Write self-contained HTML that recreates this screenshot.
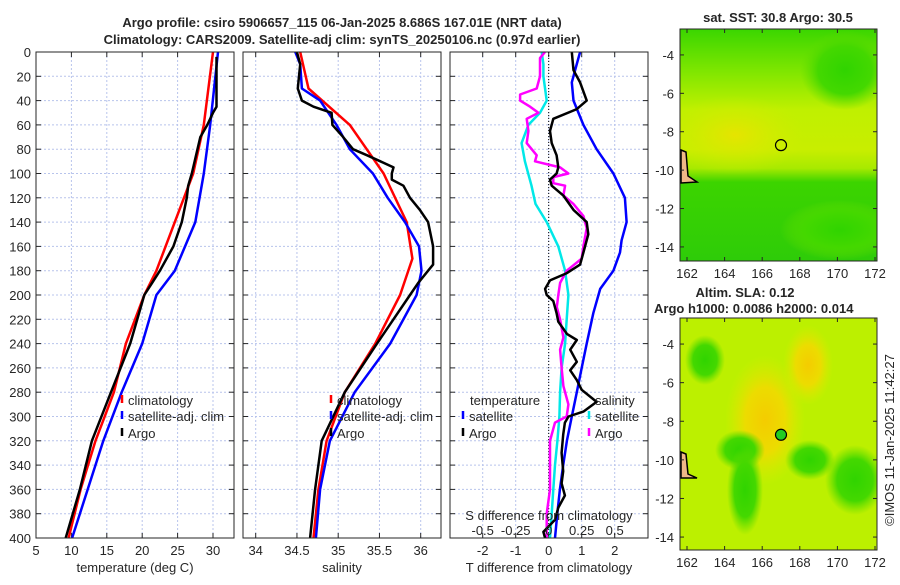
<!DOCTYPE html>
<html><head><meta charset="utf-8"><style>
body{margin:0;background:#fff;}
svg text{font-family:"Liberation Sans","DejaVu Sans",sans-serif;fill:#262626;}
</style></head><body>
<svg id="c" width="900" height="580" viewBox="0 0 900 580" xmlns="http://www.w3.org/2000/svg">
<defs>
<linearGradient id="sstg" x1="0" y1="0" x2="0" y2="1">
<stop offset="0" stop-color="#3ad600"/><stop offset="0.18" stop-color="#7ee600"/><stop offset="0.35" stop-color="#c0f000"/><stop offset="0.52" stop-color="#c8ee00"/><stop offset="0.6" stop-color="#a8ea00"/><stop offset="0.66" stop-color="#3cd400"/><stop offset="1" stop-color="#2ecc08"/>
</linearGradient>
<radialGradient id="yel"><stop offset="0" stop-color="#e6e400"/><stop offset="1" stop-color="#d0ee00" stop-opacity="0"/></radialGradient>
<radialGradient id="grn"><stop offset="0" stop-color="#30d400"/><stop offset="0.6" stop-color="#44d800"/><stop offset="1" stop-color="#60dc00" stop-opacity="0"/></radialGradient>
<radialGradient id="org"><stop offset="0" stop-color="#f4cc00"/><stop offset="0.5" stop-color="#ecdc00"/><stop offset="1" stop-color="#d8ec00" stop-opacity="0"/></radialGradient>
<clipPath id="m1c"><rect x="680" y="29" width="197" height="232"/></clipPath>
<clipPath id="m2c"><rect x="680" y="318" width="197" height="232"/></clipPath>
</defs>
<g id="layer"></g>
</svg>
<script>
// ---------- data ----------
const depthTicks=[0,20,40,60,80,100,120,140,160,180,200,220,240,260,280,300,320,340,360,380,400];
const tempTicks=[5,10,15,20,25,30];
const salTicks=[34,34.5,35,35.5,36];
const tdiffTicks=[-2,-1,0,1,2];
const sdiffTickLabels=["-0.5","-0.25","0","0.25","0.5"];
const sdiffTicks=[-0.5,-0.25,0,0.25,0.5];
const lonTicks=[162,164,166,168,170,172];
const latTicks=[-4,-6,-8,-10,-12,-14];

const tClimDepth=[0,60,100,140,180,200,240,280,320,360,400];
const tClim=[30.0,28.7,27.2,24.6,22.0,20.3,17.7,16.0,13.4,11.3,9.6];
const tSatDepth=[0,60,100,140,180,200,240,280,320,360,400];
const tSat=[30.7,29.6,28.7,27.5,24.6,22.0,20.0,17.1,14.5,12.3,10.1];
const tArgoDepth=[4,45,50,60,70,100,110,120,140,160,180,190,200,240,280,320,360,400];
const tArgo=[30.5,30.5,30.0,29.2,28.2,27.0,26.5,26.3,25.6,24.4,22.5,21.4,20.3,18.3,15.6,12.9,11.2,9.2];

const sClimDepth=[0,30,60,100,140,170,200,240,280,320,360,400];
const sClim=[34.54,34.64,35.14,35.55,35.83,35.9,35.75,35.45,35.08,34.86,34.76,34.7];
const sSatDepth=[0,10,30,40,60,80,100,120,140,160,180,200,240,280,320,360,400];
const sSat=[34.48,34.54,34.56,34.78,34.98,35.14,35.42,35.6,35.81,35.98,36.01,35.95,35.63,35.2,34.9,34.78,34.73];
const sArgoDepth=[0,10,30,40,45,50,60,70,80,85,90,95,100,105,110,120,130,140,160,175,180,190,200,240,280,320,360,400];
const sArgo=[34.5,34.54,34.51,34.56,34.7,34.92,34.93,35.06,35.18,35.35,35.51,35.67,35.65,35.65,35.79,35.87,35.99,36.09,36.15,36.15,36.09,35.97,35.87,35.47,35.08,34.8,34.72,34.66];

const dTSatDepth=[0,15,25,40,60,80,100,120,140,155,165,180,195,215,240,260,280,300,320,340,360,380,400];
const dTSat=[0.95,0.8,0.7,0.75,1.05,1.45,1.96,2.31,2.36,2.21,2.16,1.96,1.56,1.35,1.15,1.0,0.85,0.7,0.55,0.44,0.34,0.26,0.19];
const dTArgoDepth=[0,15,25,40,47,55,65,75,85,95,100,105,110,118,130,140,150,165,175,182,188,195,200,205,215,222,232,237,245,255,262,270,278,288,296,300,305,315,330,345,355,365,375,385,395,400];
const dTArgo=[0.7,0.75,0.95,1.15,0.85,0.14,0.04,0.09,0.24,0.29,0.24,0.04,0.09,0.44,0.75,1.15,1.2,1.05,0.95,0.55,0.04,-0.11,-0.06,0.14,0.24,0.29,0.55,0.85,0.65,0.85,0.65,0.85,1.0,1.45,1.05,0.6,0.49,0.44,0.39,0.44,0.39,0.49,0.29,0.19,-0.16,-0.11];
const dSSatDepth=[0,10,20,40,50,60,75,90,110,125,140,160,180,200,220,240,260,280,300,320,340,360,380,400];
const dSSat=[-0.053,-0.04,-0.04,-0.015,-0.066,-0.154,-0.205,-0.18,-0.13,-0.1,-0.015,0.073,0.124,0.149,0.136,0.124,0.098,0.086,0.081,0.066,0.048,0.035,0.023,0.01];
const dSArgoDepth=[0,5,20,30,35,40,45,50,55,65,75,85,90,95,100,103,108,110,118,125,135,145,160,170,180,190,200,210,220,235,245,260,275,290,300,305,320,340,360,380,395,400];
const dSArgo=[-0.028,-0.066,-0.066,-0.091,-0.217,-0.217,-0.141,-0.078,-0.167,-0.154,-0.167,-0.091,-0.104,0.086,0.149,0.035,0.035,0.124,0.111,0.187,0.263,0.288,0.263,0.25,0.136,0.086,0.073,0.061,0.086,0.111,0.086,0.098,0.111,0.149,0.136,0.048,0.01,0.01,0.01,-0.015,-0.015,-0.015];

// ---------- helpers ----------
const NS="http://www.w3.org/2000/svg";
const root=document.getElementById('layer');
function el(tag,attrs,parent){const e=document.createElementNS(NS,tag);for(const k in attrs)e.setAttribute(k,attrs[k]);(parent||root).appendChild(e);return e;}
function txt(x,y,s,attrs,parent){const t=el('text',Object.assign({x:x,y:y,'font-size':13},attrs||{}),parent);t.textContent=s;return t;}
const TOP=52,BOT=538;
const yD=d=>TOP+d*(BOT-TOP)/400;
const xT=v=>36+(v-5)*7.08;
const xS=v=>255.7+(v-34)*82.5;
const xDT=v=>548.7+v*33;
const xDS=v=>548.7+v*132;

function panel(x0,x1,xticks,xf,name){
  const g=el('g',{});
  
  
  el('rect',{x:x0,y:TOP,width:x1-x0,height:BOT-TOP,fill:'#fff'},g);
  xticks.forEach(v=>{const x=xf(v);el('line',{x1:x,x2:x,y1:TOP,y2:BOT,stroke:'#b8c4ec','stroke-width':1,'stroke-dasharray':'2,2'},g);
    el('line',{x1:x,x2:x,y1:BOT,y2:BOT-5,stroke:'#262626'},g);el('line',{x1:x,x2:x,y1:TOP,y2:TOP+5,stroke:'#262626'},g);});
  depthTicks.forEach(d=>{const y=yD(d);el('line',{x1:x0,x2:x1,y1:y,y2:y,stroke:'#b8c4ec','stroke-width':1,'stroke-dasharray':'2,2'},g);
    el('line',{x1:x0,x2:x0+5,y1:y,y2:y,stroke:'#262626'},g);el('line',{x1:x1-5,x2:x1,y1:y,y2:y,stroke:'#262626'},g);});
  return g;
}
function frame(x0,x1,name){const r=el('rect',{x:x0,y:TOP,width:x1-x0,height:BOT-TOP,fill:'none',stroke:'#262626','stroke-width':1});
  }
function line(depths,vals,xf,color,name,w){
  const p=el('polyline',{points:vals.map((v,i)=>xf(v).toFixed(1)+','+yD(depths[i]).toFixed(1)).join(' '),fill:'none',stroke:color,'stroke-width':w||2.5,'stroke-linejoin':'round'});
  
  
}
function legEntry(x,y,color,label,name){
  const g=el('g',{});
  
  
  el('line',{x1:x,x2:x,y1:y-10,y2:y-2,stroke:color,'stroke-width':2.5},g);
  txt(x+6,y,label,{},g);
}

// panel 1
panel(36,234,tempTicks,xT,'temperature-panel');
line(tClimDepth,tClim,xT,'#ff0000','temp-climatology-line');
line(tSatDepth,tSat,xT,'#0000ff','temp-satellite-line');
line(tArgoDepth,tArgo,xT,'#000000','temp-argo-line');
frame(36,234,'temperature-axes-frame');
depthTicks.forEach(d=>{const t=txt(31,yD(d)+5,String(d),{'text-anchor':'end'});});
tempTicks.forEach(v=>{const t=txt(xT(v),555,String(v),{'text-anchor':'middle'});});
txt(135,572,'temperature (deg C)',{'text-anchor':'middle'});
legEntry(122,405,'#ff0000','climatology','legend-climatology');
legEntry(122,421,'#0000ff','satellite-adj. clim','legend-satellite-adj');
legEntry(122,438,'#000000','Argo','legend-argo');

// panel 2
panel(243,441,salTicks,xS,'salinity-panel');
line(sClimDepth,sClim,xS,'#ff0000','sal-climatology-line');
line(sSatDepth,sSat,xS,'#0000ff','sal-satellite-line');
line(sArgoDepth,sArgo,xS,'#000000','sal-argo-line');
frame(243,441,'salinity-axes-frame');
salTicks.forEach(v=>{const t=txt(xS(v),555,String(v),{'text-anchor':'middle'});});
txt(342,572,'salinity',{'text-anchor':'middle'});
legEntry(331,405,'#ff0000','climatology','legend-climatology-2');
legEntry(331,421,'#0000ff','satellite-adj. clim','legend-satellite-adj-2');
legEntry(331,438,'#000000','Argo','legend-argo-2');

// panel 3
panel(450,648,tdiffTicks,xDT,'difference-panel');
el('line',{x1:xDT(0),x2:xDT(0),y1:TOP,y2:BOT,stroke:'#000','stroke-width':1,'stroke-dasharray':'1,2'});
line(dTSatDepth,dTSat,xDT,'#0000ff','tdiff-satellite-line');
line(dSSatDepth,dSSat,xDS,'#00e8e8','sdiff-satellite-line');
line(dSArgoDepth,dSArgo,xDS,'#ff00ff','sdiff-argo-line');
line(dTArgoDepth,dTArgo,xDT,'#000000','tdiff-argo-line');
frame(450,648,'difference-axes-frame');
tdiffTicks.forEach(v=>{const t=txt(xDT(v),555,String(v),{'text-anchor':'middle'});});
txt(549,572,'T difference from climatology',{'text-anchor':'middle'});
txt(549,520,'S difference from climatology',{'text-anchor':'middle'});
sdiffTicks.forEach((v,i)=>{const t=txt(xDS(v),535,sdiffTickLabels[i],{'text-anchor':'middle'});});
txt(470,405,'temperature');
legEntry(463,421,'#0000ff','satellite','legend-temp-satellite');
legEntry(463,438,'#000000','Argo','legend-temp-argo');
txt(595,405,'salinity');
legEntry(589,421,'#00e8e8','satellite','legend-sal-satellite');
legEntry(589,438,'#ff00ff','Argo','legend-sal-argo');

// titles
const t1=txt(342,27,'Argo profile: csiro 5906657_115 06-Jan-2025 8.686S 167.01E (NRT data)',{'text-anchor':'middle','font-weight':'bold'});

const t2=txt(342,44,'Climatology: CARS2009. Satellite-adj clim: synTS_20250106.nc (0.97d earlier)',{'text-anchor':'middle','font-weight':'bold'});


// maps
function mapAxes(x0,y0,latTop,latPer,name){
  const lx=v=>687+(v-162)*18.8;
  const ly=v=>y0+(latTop-v)*latPer;
  el('rect',{x:x0,y:y0,width:197,height:232,fill:'none',stroke:'#262626'});
  lonTicks.forEach(v=>{const x=lx(v);el('line',{x1:x,x2:x,y1:y0+232,y2:y0+228,stroke:'#262626'});el('line',{x1:x,x2:x,y1:y0,y2:y0+4,stroke:'#262626'});
    const t=txt(x,y0+249,String(v),{'text-anchor':'middle'});});
  latTicks.forEach(v=>{const y=ly(v);el('line',{x1:x0,x2:x0+4,y1:y,y2:y,stroke:'#262626'});el('line',{x1:x0+193,x2:x0+197,y1:y,y2:y,stroke:'#262626'});
    const t=txt(x0-6,y+5,String(v),{'text-anchor':'end'});});
  return {lx,ly};
}
// SST map
const g1=el('g',{'clip-path':'url(#m1c)'});


el('rect',{x:680,y:29,width:197,height:232,fill:'url(#sstg)'},g1);
el('ellipse',{cx:735,cy:135,rx:70,ry:40,fill:'url(#yel)'},g1);
el('ellipse',{cx:845,cy:70,rx:45,ry:40,fill:'url(#grn)'},g1);
el('ellipse',{cx:840,cy:230,rx:60,ry:30,fill:'url(#grn)'},g1);
el('path',{d:'M681,150 L686,152 L688,176 L697,182 L681,183 Z',fill:'#f0b888',stroke:'#000','stroke-width':1.5},g1);
const m1=mapAxes(680,29,-2.65,19.2,'sst-map');
el('ellipse',{cx:m1.lx(167),cy:m1.ly(-8.7),rx:5.5,ry:5.5,fill:'none',stroke:'#000','stroke-width':1.2});
txt(778,22,'sat. SST: 30.8 Argo: 30.5',{'text-anchor':'middle','font-weight':'bold'});

// SLA map
const g2=el('g',{'clip-path':'url(#m2c)'});


el('rect',{x:680,y:318,width:197,height:232,fill:'#bcf000'},g2);
el('ellipse',{cx:765,cy:420,rx:40,ry:65,fill:'url(#org)'},g2);
el('ellipse',{cx:808,cy:365,rx:25,ry:40,fill:'url(#org)'},g2);
el('ellipse',{cx:740,cy:450,rx:25,ry:20,fill:'url(#grn)'},g2);
el('ellipse',{cx:745,cy:490,rx:18,ry:45,fill:'url(#grn)'},g2);
el('ellipse',{cx:810,cy:460,rx:25,ry:20,fill:'url(#grn)'},g2);
el('ellipse',{cx:855,cy:480,rx:30,ry:35,fill:'url(#grn)'},g2);
el('ellipse',{cx:705,cy:360,rx:20,ry:25,fill:'url(#grn)'},g2);
el('path',{d:'M681,452 L686,454 L688,474 L697,478 L681,478 Z',fill:'#f0b888',stroke:'#000','stroke-width':1.5},g2);
const m2=mapAxes(680,318,-2.65,19.3,'sla-map');
el('ellipse',{cx:m2.lx(167),cy:m2.ly(-8.7),rx:5.5,ry:5.5,fill:'#22cc22',stroke:'#000','stroke-width':1.2});
txt(745,297,'Altim. SLA: 0.12',{'text-anchor':'middle','font-weight':'bold'});
txt(654,313,'Argo h1000: 0.0086 h2000: 0.014',{'font-weight':'bold'});
const cp=txt(0,0,'©IMOS 11-Jan-2025 11:42:27',{'text-anchor':'middle',transform:'translate(894,440) rotate(-90)'});

</script>
</body></html>
